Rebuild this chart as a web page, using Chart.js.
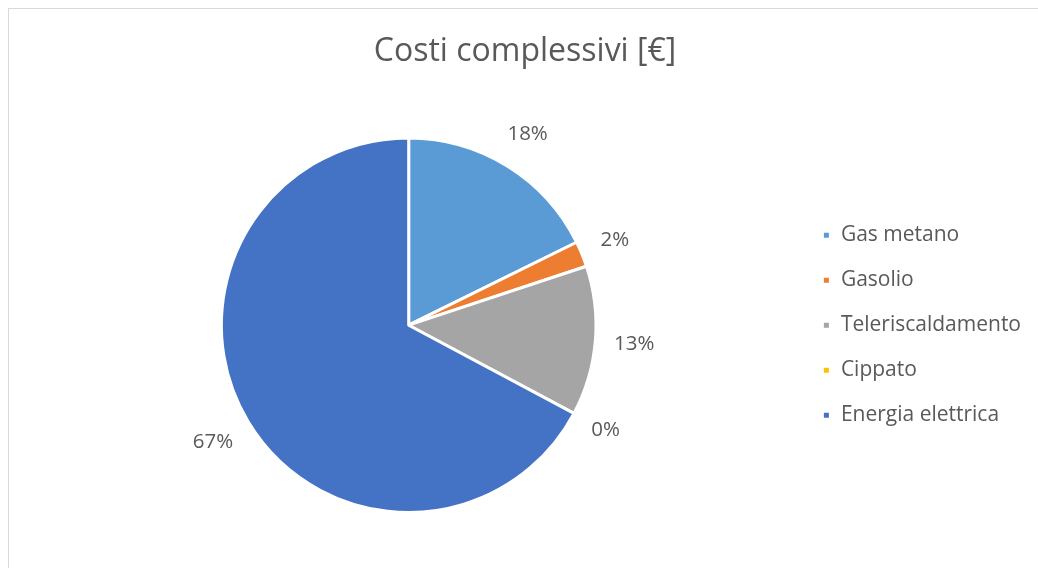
<!DOCTYPE html>
<html>
<head>
<meta charset="utf-8">
<script src="https://cdn.jsdelivr.net/npm/chart.js@4"></script>
<style>
  html, body { margin: 0; padding: 0; background: #fff; }
  body { width: 1038px; height: 568px; overflow: hidden; position: relative; }
  .frame { position: absolute; left: 8px; top: 8px; width: 1100px; height: 620px; border: 1px solid #d9d9d9; }
  #wrap { position: absolute; left: 0; top: 0; width: 1038px; height: 568px; }
</style>
</head>
<body>
<div class="frame"></div>
<div id="wrap"><canvas id="pie"></canvas></div>
<script>
const categories = ['Gas metano', 'Gasolio', 'Teleriscaldamento', 'Cippato', 'Energia elettrica'];
const shares = [17.7, 2.2, 12.9, 0, 67.2];
const colors = ['#5B9BD5', '#ED7D31', '#A5A5A5', '#FFC000', '#4472C4'];
const chartTitle = 'Costi complessivi [€]';

const FONT = "'Open Sans', Lato, sans-serif";
const TEXT = '#595959';

// percent labels outside each slice (like Excel "best fit")
const pctLabels = {
  id: 'pctLabels',
  afterDatasetsDraw(chart) {
    const ctx = chart.ctx;
    const meta = chart.getDatasetMeta(0);
    const data = chart.data.datasets[0].data;
    const total = data.reduce((a, b) => a + b, 0);
    ctx.save();
    ctx.font = '20.5px ' + FONT;
    ctx.fillStyle = TEXT;
    ctx.textAlign = 'center';
    ctx.textBaseline = 'middle';
    meta.data.forEach((arc, i) => {
      const p = arc.getProps(['x', 'y', 'startAngle', 'endAngle', 'outerRadius'], true);
      const mid = (p.startAngle + p.endAngle) / 2;
      const txt = Math.round(data[i] / total * 100) + '%';
      const w = ctx.measureText(txt).width, h = 22;
      const ux = Math.cos(mid), uy = Math.sin(mid);
      const d = p.outerRadius + 18 + Math.abs(ux) * w / 2 + Math.abs(uy) * h / 2;
      ctx.fillText(txt, p.x + ux * d, p.y + uy * d);
    });
    ctx.restore();
  }
};

new Chart(document.getElementById('pie'), {
  type: 'pie',
  data: {
    labels: categories,
    datasets: [{
      data: shares,
      backgroundColor: colors,
      borderColor: '#ffffff',
      borderWidth: 3
    }]
  },
  options: {
    responsive: true,
    maintainAspectRatio: false,
    animation: false,
    layout: { padding: { left: 19, right: 7, bottom: 54 } },
    plugins: {
      title: {
        display: true,
        text: chartTitle,
        color: TEXT,
        font: { family: FONT, size: 32, weight: 'normal' },
        padding: { top: 33, bottom: 65 }
      },
      legend: {
        position: 'right',
        fullSize: false,
        labels: {
          color: TEXT,
          font: { family: FONT, size: 21 },
          boxWidth: 8,
          boxHeight: 8,
          padding: 24
        }
      },
      tooltip: { enabled: false }
    }
  },
  plugins: [pctLabels]
});
</script>
</body>
</html>
